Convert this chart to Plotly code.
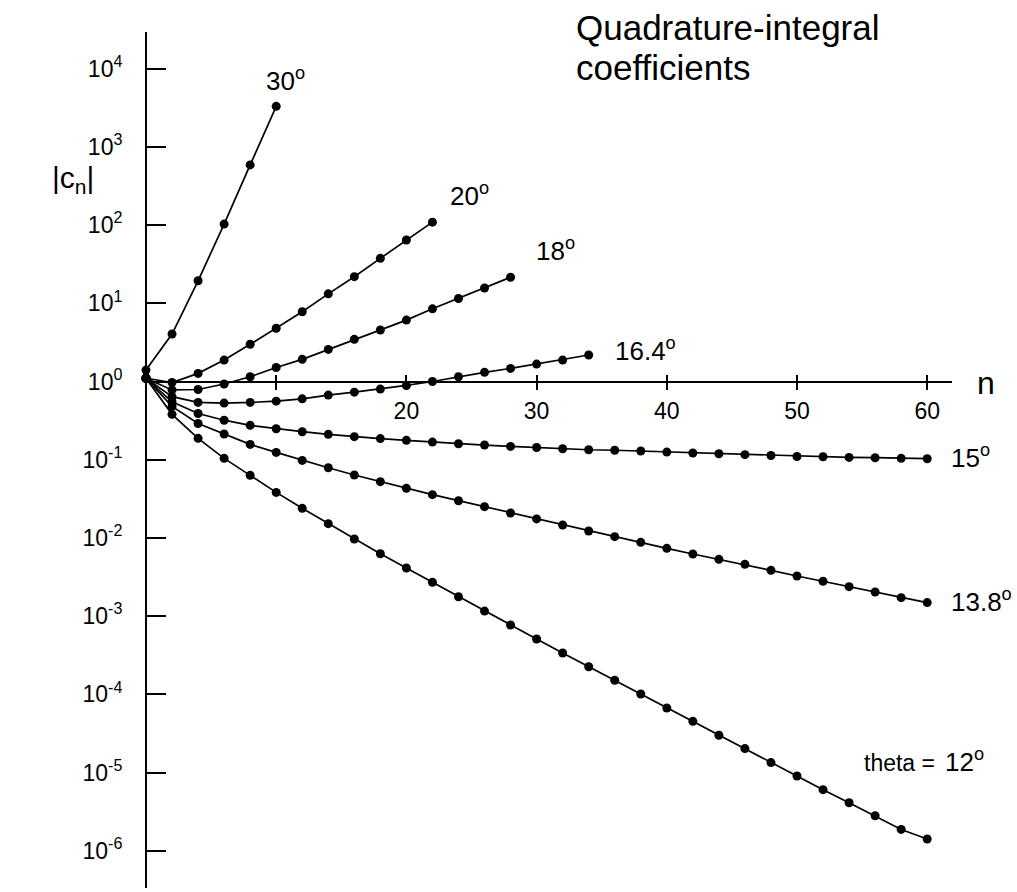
import plotly.graph_objects as go

# ---------------- data ----------------
angles = ["30", "20", "18", "16.4", "15", "13.8", "12"]

n_30 = [0, 2, 4, 6, 8, 10]
c_30 = [1.4, 4.05, 19.4, 103, 588, 3300]

n_20 = list(range(0, 23, 2))
c_20 = [1.1, 0.97, 1.27, 1.88, 2.99, 4.79, 7.8, 13.2, 21.9, 37.6, 64.5, 109]

n_18 = list(range(0, 29, 2))
c_18 = [1.1, 0.78, 0.79, 0.93, 1.15, 1.51, 1.92, 2.57, 3.46, 4.55, 6.1, 8.5,
        11.5, 15.7, 21.5]

n_164 = list(range(0, 35, 2))
c_164 = [1.1, 0.64, 0.54, 0.53, 0.54, 0.56, 0.60, 0.67, 0.73, 0.80, 0.89, 1.0,
         1.15, 1.31, 1.47, 1.67, 1.88, 2.18]

n_15 = list(range(0, 61, 2))
c_15 = [1.1, 0.55, 0.39, 0.32, 0.275, 0.249, 0.228, 0.211, 0.197, 0.186, 0.177,
        0.168, 0.160, 0.154, 0.148, 0.143, 0.138, 0.134, 0.132, 0.129, 0.125,
        0.122, 0.119, 0.116, 0.113, 0.110, 0.109, 0.107, 0.106, 0.104, 0.103]

n_138 = list(range(0, 61, 2))
c_138 = [1.1, 0.48, 0.29, 0.213, 0.157, 0.124, 0.098, 0.079, 0.0637, 0.0524,
         0.0430, 0.0357, 0.0299, 0.0251, 0.0208, 0.0175, 0.0146, 0.01225,
         0.01037, 0.00877, 0.00735, 0.00622, 0.00532, 0.00459, 0.00385,
         0.00326, 0.00279, 0.00238, 0.00203, 0.00172, 0.00149]

n_12 = list(range(0, 61, 2))
c_12 = [1.1, 0.38, 0.1876, 0.104, 0.0631, 0.0382, 0.0239, 0.0152, 0.00968,
        0.00628, 0.00412, 0.0027, 0.00177, 0.00116, 7.69e-4, 5.09e-4, 3.37e-4,
        2.25e-4, 1.51e-4, 1.01e-4, 6.68e-5, 4.51e-5, 2.99e-5, 2.02e-5,
        1.34e-5, 9.02e-6, 6.03e-6, 4.11e-6, 2.80e-6, 1.87e-6, 1.41e-6]

x_tickvals = [10, 20, 30, 40, 50, 60]
x_ticktext = ["", "20", "30", "40", "50", "60"]
y_exps = [-6, -5, -4, -3, -2, -1, 0, 1, 2, 3, 4]

# ---------------- layout geometry ----------------
W, H = 1017, 892
L, R, T, B = 146, 65, 32, 4
px_per_n = 13.02
px_per_dec = 78.2
y_one_px = 381.5  # pixel row of 10^0
plot_w = W - L - R
plot_h = H - T - B
x_range = [0, plot_w / px_per_n]
y_range = [(y_one_px - (H - B)) / px_per_dec, (y_one_px - T) / px_per_dec]
xaxis_pos = ((H - B) - y_one_px) / plot_h

FONT = "Liberation Sans, Arial, Helvetica, sans-serif"
TICK_SIZE = 23

fig = go.Figure()
series = [(n_30, c_30), (n_20, c_20), (n_18, c_18), (n_164, c_164),
          (n_15, c_15), (n_138, c_138), (n_12, c_12)]
for (nn, cc), a in zip(series, angles):
    fig.add_trace(go.Scatter(
        x=nn, y=cc, mode="lines+markers", name=a + "°",
        line=dict(color="black", width=1.7),
        marker=dict(color="black", size=9),
        cliponaxis=False, showlegend=False,
    ))

# overlay axis used only for upward tick halves
fig.add_trace(go.Scatter(x=[None], y=[None], xaxis="x2", showlegend=False))

fig.update_layout(
    width=W, height=H, autosize=False,
    margin=dict(l=L, r=R, t=T, b=B, pad=0),
    paper_bgcolor="white", plot_bgcolor="white",
    font=dict(family=FONT, color="black", size=TICK_SIZE),
    xaxis=dict(
        range=x_range, anchor="free", position=xaxis_pos,
        showgrid=False, zeroline=False, showline=True, linecolor="black",
        linewidth=2, ticks="outside", ticklen=7, tickwidth=1.5,
        tickcolor="black", tickvals=x_tickvals, ticktext=x_ticktext,
        tickfont=dict(size=TICK_SIZE, family=FONT), ticklabelstandoff=2,
    ),
    xaxis2=dict(
        range=x_range, overlaying="x", anchor="free", position=xaxis_pos,
        showgrid=False, zeroline=False, showline=False,
        ticks="inside", ticklen=7, tickwidth=1.5, tickcolor="black",
        tickvals=x_tickvals, showticklabels=False,
    ),
    yaxis=dict(
        type="log", range=y_range, anchor="free", position=0,
        showgrid=False, zeroline=False, showline=True, linecolor="black",
        linewidth=2, ticks="inside", ticklen=19, tickwidth=1.5,
        tickcolor="black",
        tickvals=[10 ** e for e in y_exps],
        ticktext=["10<sup>%d</sup>" % e for e in y_exps],
        tickfont=dict(size=TICK_SIZE, family=FONT), ticklabelstandoff=18,
    ),
)


def P(px, py):
    return (px - L) / plot_w, ((H - B) - py) / plot_h


def label(text, px, py, size, xanchor="left"):
    xp, yp = P(px, py)
    fig.add_annotation(text=text, x=xp, y=yp, xref="paper", yref="paper",
                       xanchor=xanchor, yanchor="middle", showarrow=False,
                       font=dict(size=size, family=FONT, color="black"))


label("30<sup>o</sup>", 264, 79, 26)
label("20<sup>o</sup>", 448, 194, 26)
label("18<sup>o</sup>", 534, 249, 26)
label("16.4<sup>o</sup>", 613, 349, 26)
label("15<sup>o</sup>", 949, 456, 26)
label("13.8<sup>o</sup>", 949, 601, 26)
label("theta =", 862, 763, 23)
label("12<sup>o</sup>", 943, 760, 26)
label("n", 975, 383, 32)
label("|c<sub>n</sub>|", 50, 180, 30)
label("Quadrature-integral", 574, 28, 35)
label("coefficients", 574, 67, 35)

fig.write_html("out.html", config={"displayModeBar": False})
